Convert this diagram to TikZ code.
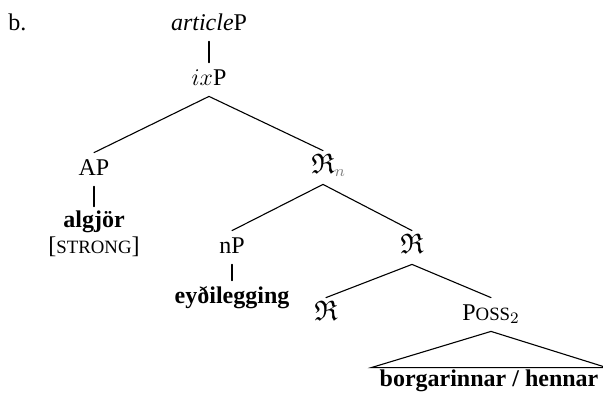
\documentclass[tikz,border=0pt]{standalone}
\usepackage{amsmath,amssymb}
\usepackage{graphicx}
\usepackage{xcolor}
\usepackage{fontspec}
\setmainfont{Liberation Serif}
\usepackage{tikz}
\usetikzlibrary{positioning}

\newcommand{\fsc}[1]{{\fontsize{9.4}{11}\selectfont #1}}
\newcommand{\rfrak}{\scalebox{1.18}{$\mathfrak{R}$}}

\begin{document}
\begin{tikzpicture}[
  x=0.5pt, y=-0.5pt,
  lbl/.style={anchor=base, inner xsep=1pt, inner ysep=3pt, text height=8pt, text depth=2.5pt, font=\fontsize{12}{14}\selectfont},
  word/.style={lbl, font=\fontsize{12}{14}\selectfont\bfseries},
  branch/.style={line width=0.55pt, line cap=round}
]
\useasboundingbox (0,0) rectangle (603,396);
\node[lbl, anchor=base west, inner xsep=0pt] at (8,30) (ex) {b.};
\node[lbl] at (209,30) (article) {\textit{article}P};
\node[lbl] at (209,85) (ixp) {$ix$P};
\node[lbl] at (94,175) (ap) {AP};
\node[lbl] at (323,173) (rn) {\rfrak\rlap{$_{\color{gray}n}$}};
\node[word, inner ysep=2pt] at (94,227) (algjor) {algjör};
\node[lbl] at (94,253) (strong) {[\fsc{STRONG}]};
\node[lbl] at (232,253) (np) {nP};
\node[lbl] at (412,253) (r1) {\rfrak};
\node[word] at (232,303) (eydi) {eyðilegging};
\node[lbl] at (326,320) (r2) {\rfrak};
\node[lbl] at (491,320) (poss) {P\fsc{OSS}$_2$};
\node[word, inner xsep=4pt, inner ysep=1pt] at (489,386) (borg) {borgarinnar / hennar};
\draw[branch] (article.south) -- (ixp.north);
\draw[branch] (ixp.south) -- (ap.north);
\draw[branch] (ixp.south) -- (rn.north);
\draw[branch] (ap.south) -- (algjor.north);
\draw[branch] (rn.south) -- (np.north);
\draw[branch] (rn.south) -- (r1.north);
\draw[branch] (np.south) -- (eydi.north);
\draw[branch] (r1.south) -- (r2.north);
\draw[branch] (r1.south) -- (poss.north);
\draw[branch] (poss.south) -- (borg.north west) -- (borg.north east) -- cycle;
\end{tikzpicture}
\end{document}
